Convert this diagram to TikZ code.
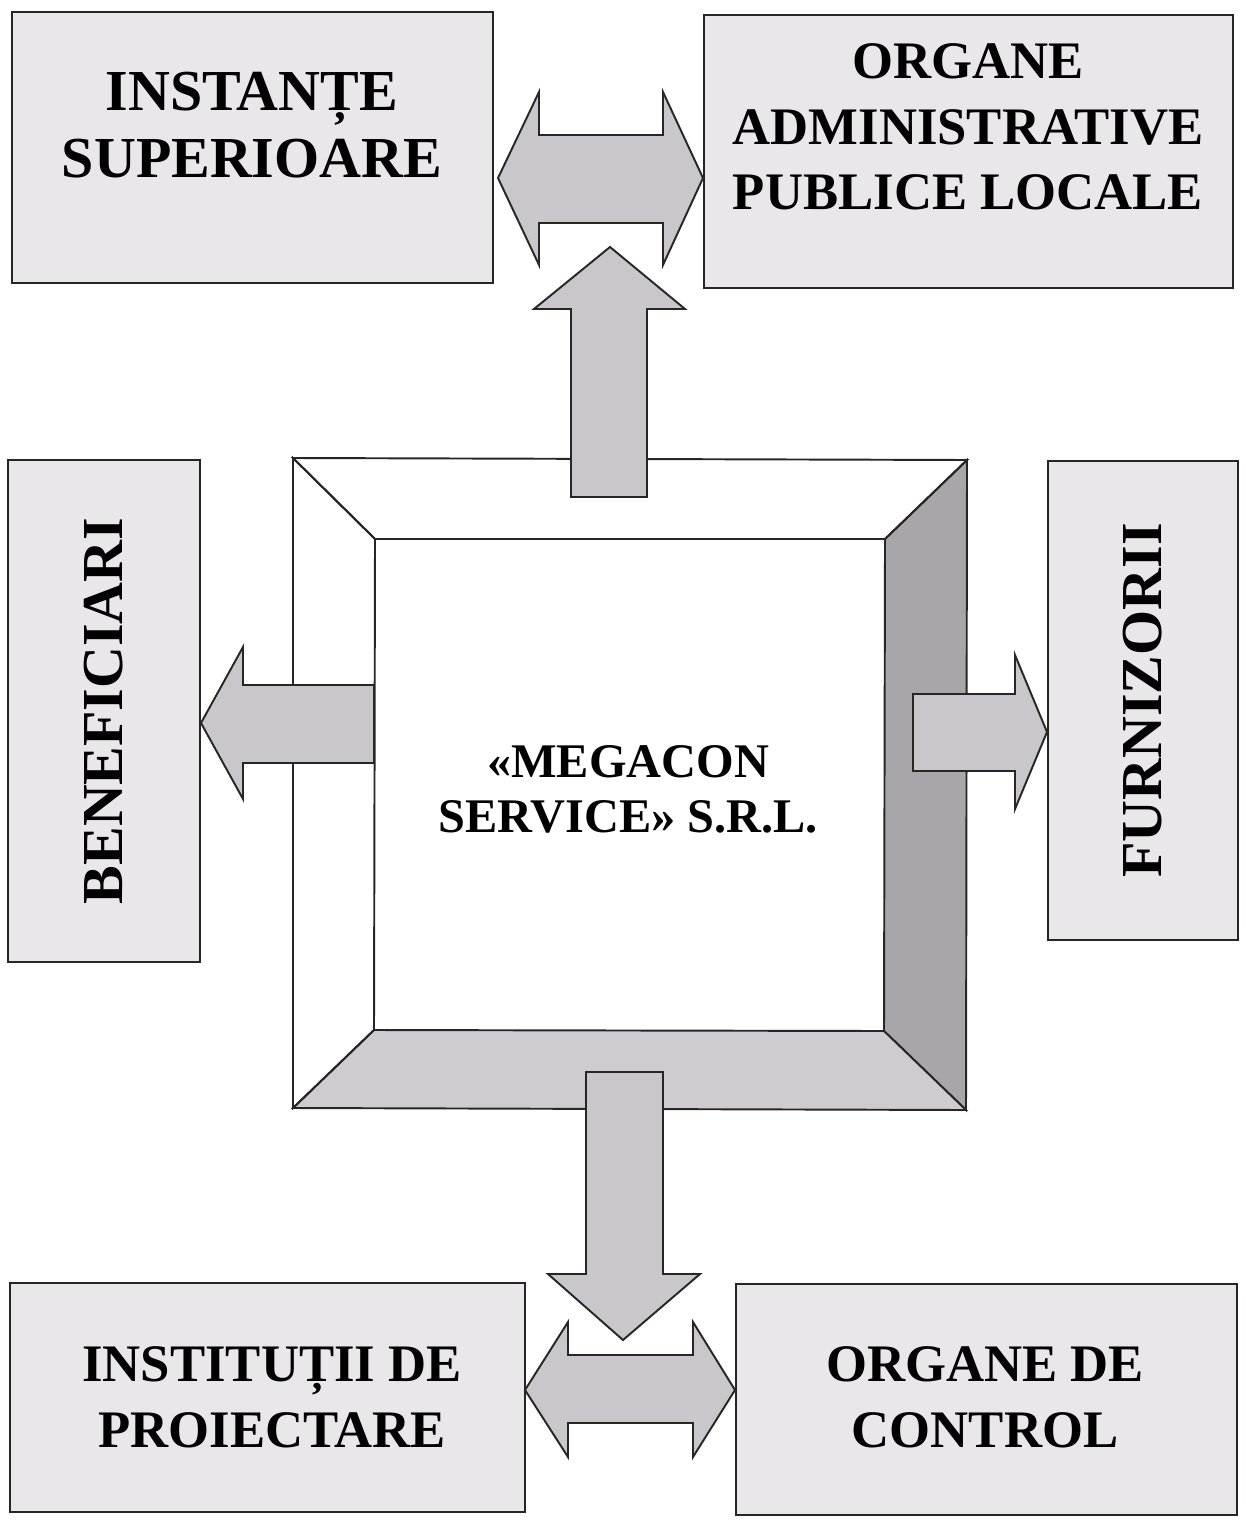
\documentclass[tikz,border=0pt]{standalone}
\usepackage{fontspec}
\setmainfont{Liberation Serif}
\usetikzlibrary{fit}
\definecolor{boxgray}{RGB}{233,231,234}
\definecolor{arrowgray}{RGB}{201,199,203}
\definecolor{sidegray}{RGB}{168,166,170}
\definecolor{basegray}{RGB}{206,204,208}
\begin{document}
\begin{tikzpicture}[x=0.02cm,y=-0.02cm,
  box/.style={draw=black!85, line width=1pt, fill=boxgray, inner sep=0pt},
  blk/.style={draw=black!85, line width=1.1pt, line join=miter},
  arr/.style={blk, fill=arrowgray},
  bigtxt/.style={font=\bfseries\fontsize{33}{38.5}\selectfont, align=center, inner sep=0pt},
  midtxt/.style={font=\bfseries\fontsize{30}{37.4}\selectfont, align=center, inner sep=0pt},
  ctrtxt/.style={font=\bfseries\fontsize{27.5}{31.2}\selectfont, align=center, inner sep=0pt},
  vtxt/.style={font=\bfseries\fontsize{33}{38}\selectfont, rotate=90, inner sep=0pt}]
\useasboundingbox (0,0) rectangle (1246,1527);

% outer boxes
\node[box, fit={(12,12) (493,283)}] (inst) {};
\node[box, fit={(704,15) (1233,288)}] (org) {};
\node[box, fit={(8,460) (200,962)}] (benef) {};
\node[box, fit={(1048,461) (1238,940)}] (furn) {};
\node[box, fit={(10,1283) (525,1512)}] (proiect) {};
\node[box, fit={(736,1284) (1237,1515)}] (control) {};

\node[bigtxt] (instT) at (252,125) {INSTANȚE\\SUPERIOARE};
\node[midtxt] (orgT) at (968,127) {ORGANE\\ADMINISTRATIVE\\PUBLICE LOCALE};
\node[vtxt] (benefT) at (benef.center) {BENEFICIARI};
\node[vtxt] (furnT) at (furn.center) {FURNIZORII};
\node[midtxt] (proiectT) at (272,1397) {INSTITUȚII DE\\PROIECTARE};
\node[midtxt] (controlT) at (985,1397) {ORGANE DE\\CONTROL};

% central bevelled frame
\coordinate (oTL) at (293,458);
\coordinate (oTR) at (967,460);
\coordinate (oBR) at (966,1110);
\coordinate (oBL) at (293,1108);
\coordinate (iTL) at (375,539);
\coordinate (iTR) at (885,539);
\coordinate (iBR) at (884,1031);
\coordinate (iBL) at (374,1030);
\fill[white] (oTL) -- (oTR) -- (oBR) -- (oBL) -- cycle;
\draw[blk, fill=sidegray] (oTR) -- (oBR) -- (iBR) -- (iTR) -- cycle;
\draw[blk, fill=basegray] (iBL) -- (iBR) -- (oBR) -- (oBL) -- cycle;
\draw[blk] (oTL) -- (oTR) -- (iTR) -- (iTL) -- cycle;
\draw[blk] (oTL) -- (iTL) -- (iBL) -- (oBL) -- cycle;
\node[ctrtxt] (core) at (628,789) {«MEGACON\\SERVICE» S.R.L.};

% block arrows
\draw[arr] (498,178) -- (539,92) -- (539,135) -- (663,135) -- (663,92) -- (703,178)
  -- (663,265) -- (663,223) -- (539,223) -- (539,265) -- cycle;
\draw[arr] (571,497) -- (571,309) -- (534,309) -- (610,247) -- (685,309) -- (647,309) -- (647,497) -- cycle;
\draw[arr] (374,685) -- (243,685) -- (243,647) -- (201,723) -- (243,799) -- (243,763) -- (374,763) -- cycle;
\draw[arr] (913,694) -- (1015,694) -- (1015,655) -- (1047,732) -- (1015,809) -- (1015,771) -- (913,771) -- cycle;
\draw[arr] (586,1072) -- (663,1072) -- (663,1274) -- (700,1274) -- (623,1340) -- (548,1274) -- (586,1274) -- cycle;
\draw[arr] (525,1390) -- (568,1322) -- (568,1355) -- (693,1355) -- (693,1322) -- (735,1390)
  -- (693,1457) -- (693,1423) -- (568,1423) -- (568,1457) -- cycle;
\end{tikzpicture}
\end{document}
